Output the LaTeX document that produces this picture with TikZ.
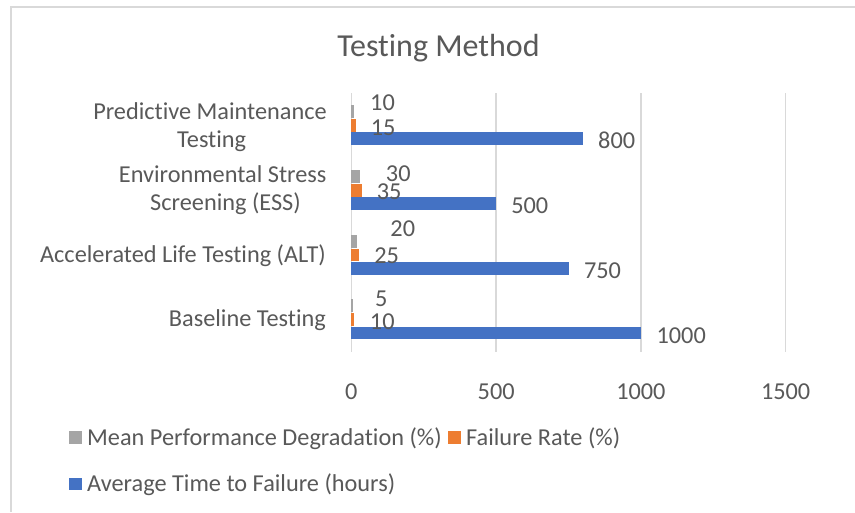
\documentclass[tikz,border=0pt]{standalone}
\usepackage{fontspec}
\setmainfont{Carlito}[Ligatures={NoCommon}]
\definecolor{txt}{HTML}{595959}
\definecolor{gridc}{HTML}{D9D9D9}
\definecolor{barblue}{HTML}{4472C4}
\definecolor{barorange}{HTML}{ED7D31}
\definecolor{bargray}{HTML}{A5A5A5}
\begin{document}
\begin{tikzpicture}[x=1pt,y=-1pt,
  lbl/.style={font=\fontsize{24.3}{29}\selectfont, text=txt, inner sep=0pt, anchor=base},
  ttl/.style={font=\fontsize{32}{38}\selectfont, text=txt, inner sep=0pt, anchor=base},
  gridline/.style={gridc, line width=1.5pt},
  keybox/.style={minimum size=12.5pt, inner sep=0pt, draw=none}]
\useasboundingbox (0,0) rectangle (855,512);
\fill[white] (0,0) rectangle (855,512);
% chart frame (continues past the right and bottom edges)
\draw[gridc, line width=2.2pt] (10.7,512) -- (10.7,6.7) -- (855,6.7);

% title
\node[ttl] (title) at (438.5,56) {Testing Method};

% axis geometry
\def\xo{351.4}
\def\sc{0.2895}

% vertical gridlines and tick labels
\foreach \v/\n in {0/t0,500/t500,1000/t1000,1500/t1500} {
  \draw[gridline] ({\xo+\sc*\v},93) -- ({\xo+\sc*\v},352);
  \node[lbl] (\n) at ({\xo+\sc*\v},399.3) {\v};
}

% bars: degradation, failure rate, time to failure
\foreach \k/\g/\o/\b in {0/10/15/800,1/30/35/500,2/20/25/750,3/5/10/1000} {
  \pgfmathsetmacro\t{93+64.75*\k}
  \fill[bargray]   (\xo,\t+12)   rectangle ({\xo+\sc*\g},\t+25);
  \fill[barorange] (\xo,\t+26)   rectangle ({\xo+\sc*\o},\t+38.8);
  \fill[barblue]   (\xo,\t+39.3) rectangle ({\xo+\sc*\b},\t+52);
}

% data labels
\foreach \n/\x/\y/\s in {
  dpg/382.5/110/10, dpo/383.2/135/15, dpb/616.7/148.3/800,
  deg/398.3/181.7/30, deo/389.2/199/35, deb/529.8/213/500,
  dag/402.8/236.7/20, dao/386.7/263/25, dab/602.5/278/750,
  dbg/381.3/306.7/5, dbo/382.3/329/10, dbb/681.2/343.3/1000} {
  \node[lbl] (\n) at (\x,\y) {\s};
}

% category labels, centred on their bands
\node[lbl] (catpm1) at (210,119.5) {Predictive Maintenance};
\node[lbl] (catpm2) at (211.7,147) {Testing};
\node[lbl] (catess1) at (222.7,182.5) {Environmental Stress};
\node[lbl] (catess2) at (225.5,210) {Screening (ESS)};
\node[lbl, anchor=base east] (catalt) at (326,262.5) {Accelerated Life Testing (ALT)};
\node[lbl, anchor=base east] (catbase) at (326,326.5) {Baseline Testing};

% legend
\node[keybox, fill=bargray] (kgray) at (75.5,437.5) {};
\node[lbl, anchor=base west] (lgray) at (87,445) {Mean Performance Degradation (\%)};
\node[keybox, fill=barorange] (korange) at (454.5,437.7) {};
\node[lbl, anchor=base west] (lorange) at (466,445) {Failure Rate (\%)};
\node[keybox, fill=barblue] (kblue) at (75.5,484) {};
\node[lbl, anchor=base west] (lblue) at (87,491.7) {Average Time to Failure (hours)};
\end{tikzpicture}
\end{document}
